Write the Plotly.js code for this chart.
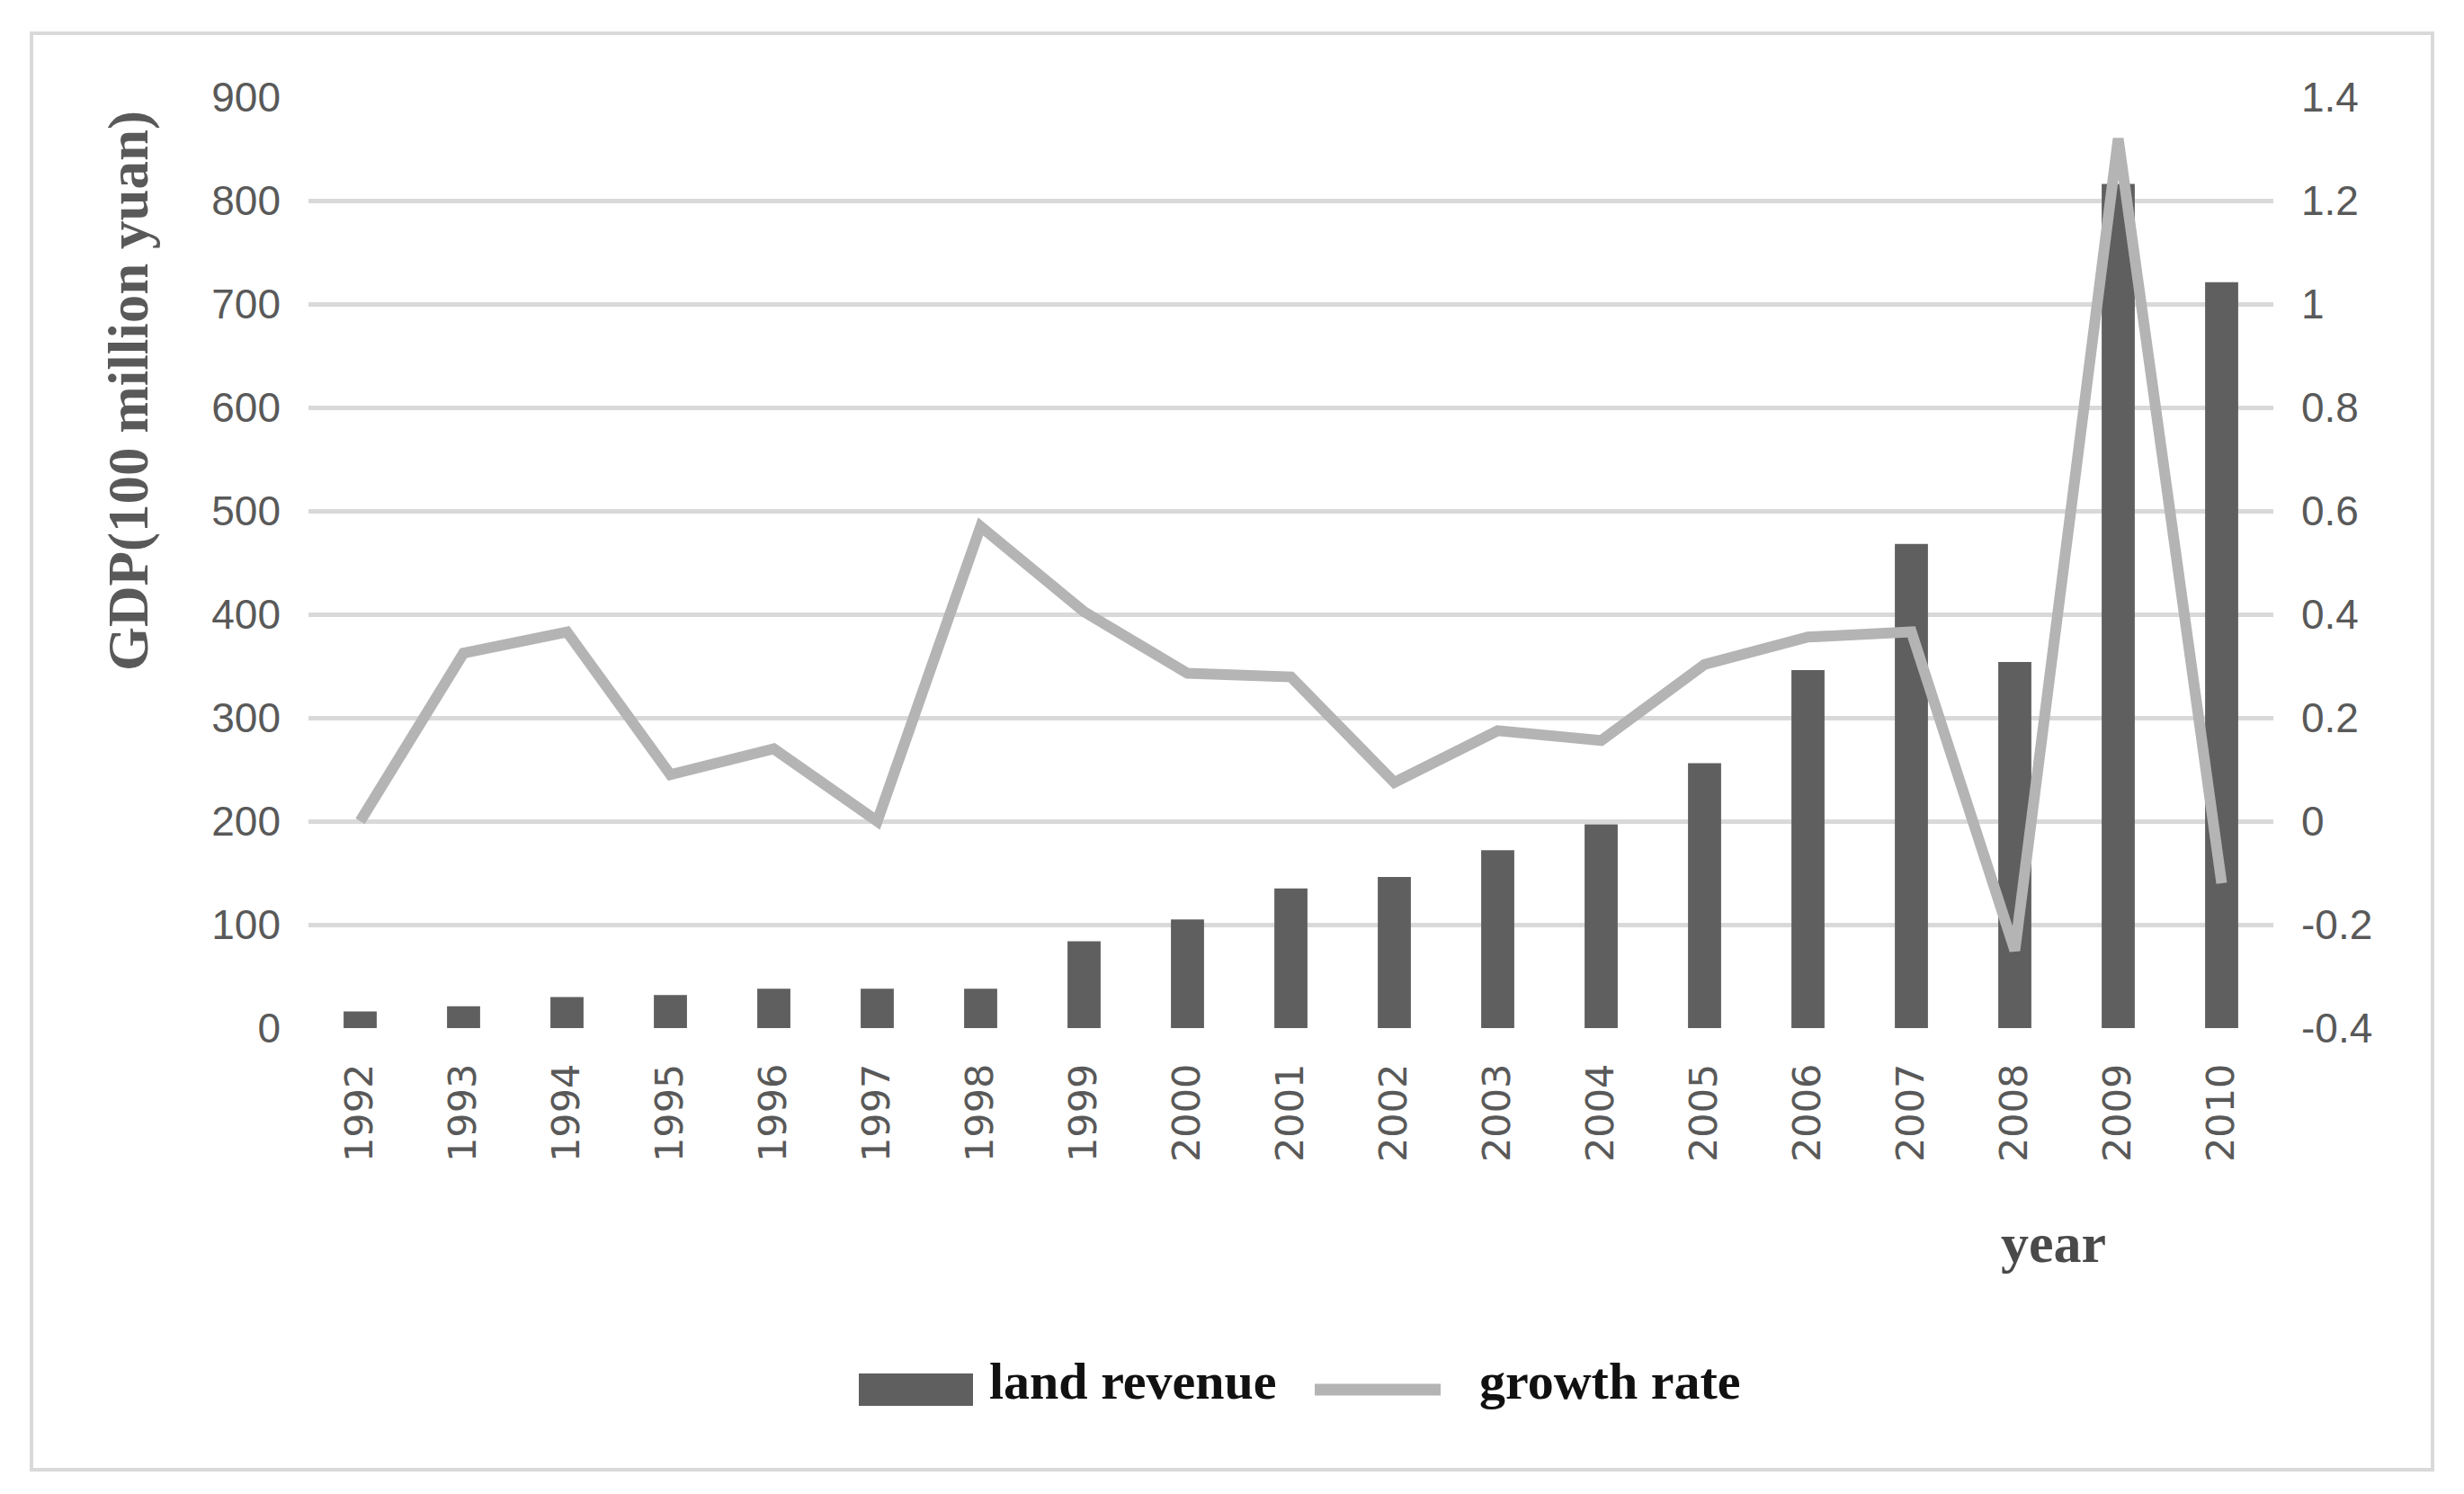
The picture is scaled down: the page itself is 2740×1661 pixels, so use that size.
<!DOCTYPE html>
<html>
<head>
<meta charset="utf-8">
<script src="https://cdn.plot.ly/plotly-3.0.1.min.js"></script>
<style>
html,body{margin:0;padding:0;background:#fff;}
#chart{width:2740px;height:1661px;}
</style>
</head>
<body>
<div id="chart"></div>
<script>
// ---- data ----
const years = ["1992","1993","1994","1995","1996","1997","1998","1999","2000","2001",
               "2002","2003","2004","2005","2006","2007","2008","2009","2010"];
const landRevenue = [16, 21, 30, 32, 38, 38, 38, 84, 105, 135,
                     146, 172, 197, 256, 346, 468, 354, 816, 721];
const growthRate = [0.0, 0.325, 0.366, 0.09, 0.14, 0.0, 0.57, 0.405, 0.286, 0.279,
                    0.075, 0.175, 0.156, 0.303, 0.356, 0.366, -0.25, 1.32, -0.12];
const leftTicks = [0, 100, 200, 300, 400, 500, 600, 700, 800, 900];
const rightTickVals = [-0.4, -0.2, 0, 0.2, 0.4, 0.6, 0.8, 1.0, 1.2, 1.4];
const rightTickText = ["-0.4", "-0.2", "0", "0.2", "0.4", "0.6", "0.8", "1", "1.2", "1.4"];
const seriesNames = ["land revenue", "growth rate"];
const yTitle = "GDP(100 million yuan)";
const xTitle = "year";

// ---- layout geometry (pixels) ----
const W = 2740, H = 1661;
const L = 343, R = 2528, T = 108, B = 1143;
const pw = R - L, ph = B - T;
const px = v => (v - L) / pw;
const py = v => (B - v) / ph;

const barColor = "#5f5f5f";
const lineColor = "#b4b4b4";
const gridColor = "#d9d9d9";
const tickColor = "#595959";

const traces = [
  {
    type: "bar",
    name: seriesNames[0],
    x: years,
    y: landRevenue,
    marker: {color: barColor},
    yaxis: "y",
    showlegend: false
  },
  {
    type: "scatter",
    mode: "lines",
    name: seriesNames[1],
    x: years,
    y: growthRate,
    line: {color: lineColor, width: 12},
    yaxis: "y2",
    showlegend: false
  }
];

const layout = {
  width: W,
  height: H,
  paper_bgcolor: "#ffffff",
  plot_bgcolor: "#ffffff",
  margin: {l: L, r: W - R, t: T, b: H - B, pad: 0},
  bargap: 0.68,
  showlegend: false,
  xaxis: {
    type: "category",
    tickangle: -90,
    tickfont: {family: "DejaVu Sans", size: 43, color: tickColor},
    ticks: "",
    showgrid: false,
    showline: false,
    zeroline: false,
    ticklabelstandoff: 30,
    automargin: false
  },
  yaxis: {
    range: [0, 900],
    tickvals: leftTicks,
    tickfont: {family: "Liberation Sans", size: 46, color: tickColor},
    showgrid: true,
    gridcolor: gridColor,
    gridwidth: 5,
    zeroline: false,
    showline: false,
    ticks: "",
    ticklabelstandoff: 30,
    automargin: false
  },
  yaxis2: {
    overlaying: "y",
    side: "right",
    range: [-0.4, 1.4],
    tickvals: rightTickVals,
    ticktext: rightTickText,
    tickfont: {family: "Liberation Sans", size: 46, color: tickColor},
    showgrid: false,
    zeroline: false,
    showline: false,
    ticks: "",
    ticklabelstandoff: 30,
    automargin: false
  },
  shapes: [
    // outer frame
    {type: "rect", xref: "paper", yref: "paper",
     x0: px(35), x1: px(2705), y0: py(1634), y1: py(37),
     line: {color: gridColor, width: 4}, fillcolor: "rgba(0,0,0,0)", layer: "below"},
    // legend swatch: bars
    {type: "rect", xref: "paper", yref: "paper",
     x0: px(955), x1: px(1082), y0: py(1563), y1: py(1527),
     line: {width: 0}, fillcolor: barColor},
    // legend swatch: line
    {type: "line", xref: "paper", yref: "paper",
     x0: px(1462), x1: px(1602), y0: py(1545), y1: py(1545),
     line: {color: lineColor, width: 13}}
  ],
  annotations: [
    {text: yTitle, xref: "paper", yref: "paper", x: px(143), y: py(435),
     xanchor: "center", yanchor: "middle", textangle: -90, showarrow: false,
     font: {family: "Liberation Serif", size: 63, color: tickColor, weight: "bold"}},
    {text: xTitle, xref: "paper", yref: "paper", x: px(2283), y: py(1382),
     xanchor: "center", yanchor: "middle", showarrow: false,
     font: {family: "Liberation Serif", size: 62, color: "#4a4a4a", weight: "bold"}},
    {text: seriesNames[0], xref: "paper", yref: "paper", x: px(1098), y: py(1535),
     xanchor: "left", yanchor: "middle", showarrow: false,
     font: {family: "Liberation Serif", size: 58, color: "#111111", weight: "bold"}},
    {text: seriesNames[1], xref: "paper", yref: "paper", x: px(1643), y: py(1535),
     xanchor: "left", yanchor: "middle", showarrow: false,
     font: {family: "Liberation Serif", size: 58, color: "#111111", weight: "bold"}}
  ]
};

Plotly.newPlot("chart", traces, layout, {displayModeBar: false, staticPlot: true});
</script>
</body>
</html>
